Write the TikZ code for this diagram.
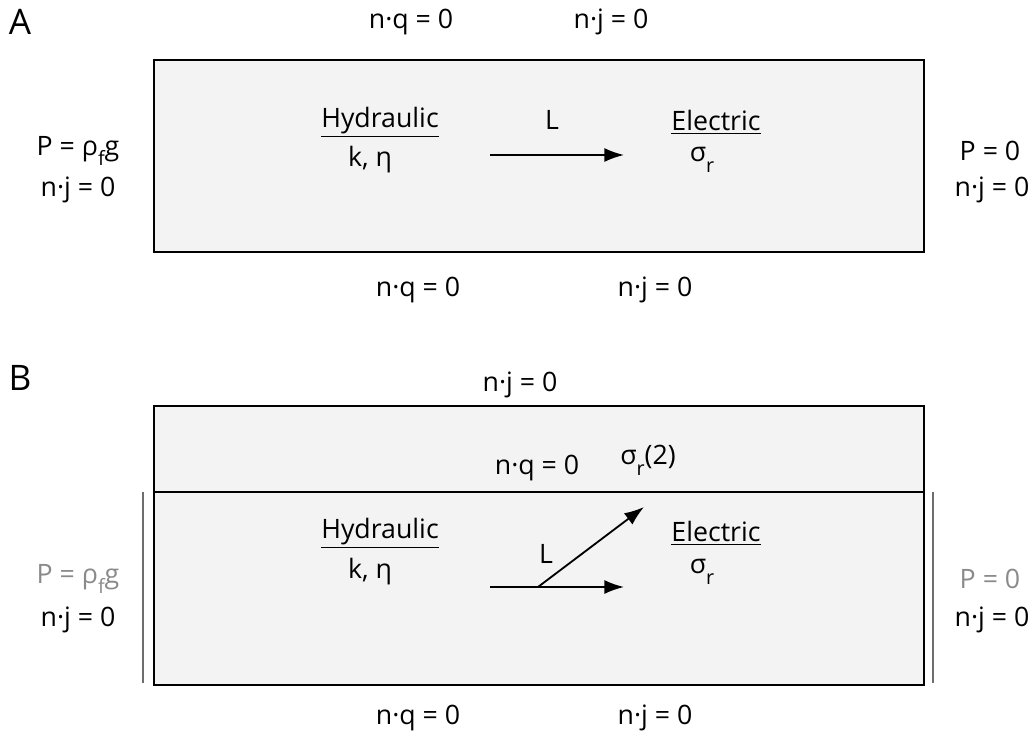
\documentclass[tikz,border=0pt]{standalone}
\usepackage{fontspec}
\setmainfont{Open Sans}
\usepackage{tikz}
\usetikzlibrary{arrows.meta, positioning, calc}
\definecolor{slabfill}{HTML}{F3F3F3}
\definecolor{bcgray}{HTML}{8A8A8A}
\newcommand{\lowsub}[1]{\raisebox{-0.75ex}{\fontsize{14}{16}\selectfont #1}}

\begin{document}
\begin{tikzpicture}[
  x=0.025cm, y=-0.025cm,
  slab/.style={draw=black, line width=1.4pt, fill=slabfill},
  bc/.style={font=\fontsize{19}{22}\selectfont, inner sep=1pt},
  bcgrey/.style={bc, text=bcgray},
  panel/.style={font=\fontsize{25}{28}\selectfont, inner sep=1pt},
  flow/.style={-{Latex[length=14pt, width=10pt]}, line width=1.3pt},
  wall/.style={bcgray!80!black, line width=1.5pt}
]
  \useasboundingbox (0,0) rectangle (1034,742);

  % Panel A
  \node[panel] (labA) at (20,22) {A};
  \draw[slab] (154,60) rectangle (924,252);
  \node[bc] (topqA) at (411,22) {n·q = 0};
  \node[bc] (topjA) at (611,22) {n·j = 0};
  \node[bc] (lefpA) at (78,151) {P = ρ\lowsub{f}g};
  \node[bc] (lefjA) at (78,190) {n·j = 0};
  \node[bc] (rigpA) at (990,151) {P = 0};
  \node[bc] (rigjA) at (992,190) {n·j = 0};
  \node[bc] (botqA) at (418,290) {n·q = 0};
  \node[bc] (botjA) at (655,290) {n·j = 0};
  \node[bc] (hydA) at (380,122) {\underline{Hydraulic}};
  \node[bc] (keA) at (370,160) {k, η};
  \node[bc] (elA) at (716,122) {\underline{Electric}};
  \node[bc] (sigA) at (702,160) {σ\lowsub{r}};
  \node[bc] (LA) at (552,120) {L};
  \coordinate (tailA) at (490,155);
  \coordinate (headA) at (624,155);
  \draw[flow] (tailA) -- (headA);

  % Panel B
  \node[panel] (labB) at (20,378) {B};
  \draw[slab] (154,406) rectangle (924,685);
  \draw[line width=1.4pt] (154,492) -- (924,492);
  \draw[wall] (143,492) -- (143,683);
  \draw[wall] (933,492) -- (933,683);
  \node[bc] (topjB) at (520,385) {n·j = 0};
  \node[bc] (midqB) at (537,468) {n·q = 0};
  \node[bc] (sig2B) at (648,460) {σ\lowsub{r}(2)};
  \node[bcgrey] (lefpB) at (78,579) {P = ρ\lowsub{f}g};
  \node[bc] (lefjB) at (78,620) {n·j = 0};
  \node[bcgrey] (rigpB) at (990,579) {P = 0};
  \node[bc] (rigjB) at (992,620) {n·j = 0};
  \node[bc] (botqB) at (418,718) {n·q = 0};
  \node[bc] (botjB) at (655,718) {n·j = 0};
  \node[bc] (hydB) at (380,533) {\underline{Hydraulic}};
  \node[bc] (keB) at (370,572) {k, η};
  \node[bc] (elB) at (716,533) {\underline{Electric}};
  \node[bc] (sigB) at (702,572) {σ\lowsub{r}};
  \node[bc] (LB) at (546,554) {L};
  \coordinate (tailB) at (490,587);
  \coordinate (forkB) at (538,587);
  \coordinate (headB) at (624,587);
  \coordinate (upB) at (644,507);
  \draw[flow] (tailB) -- (headB);
  \draw[flow] (forkB) -- (upB);
\end{tikzpicture}
\end{document}
